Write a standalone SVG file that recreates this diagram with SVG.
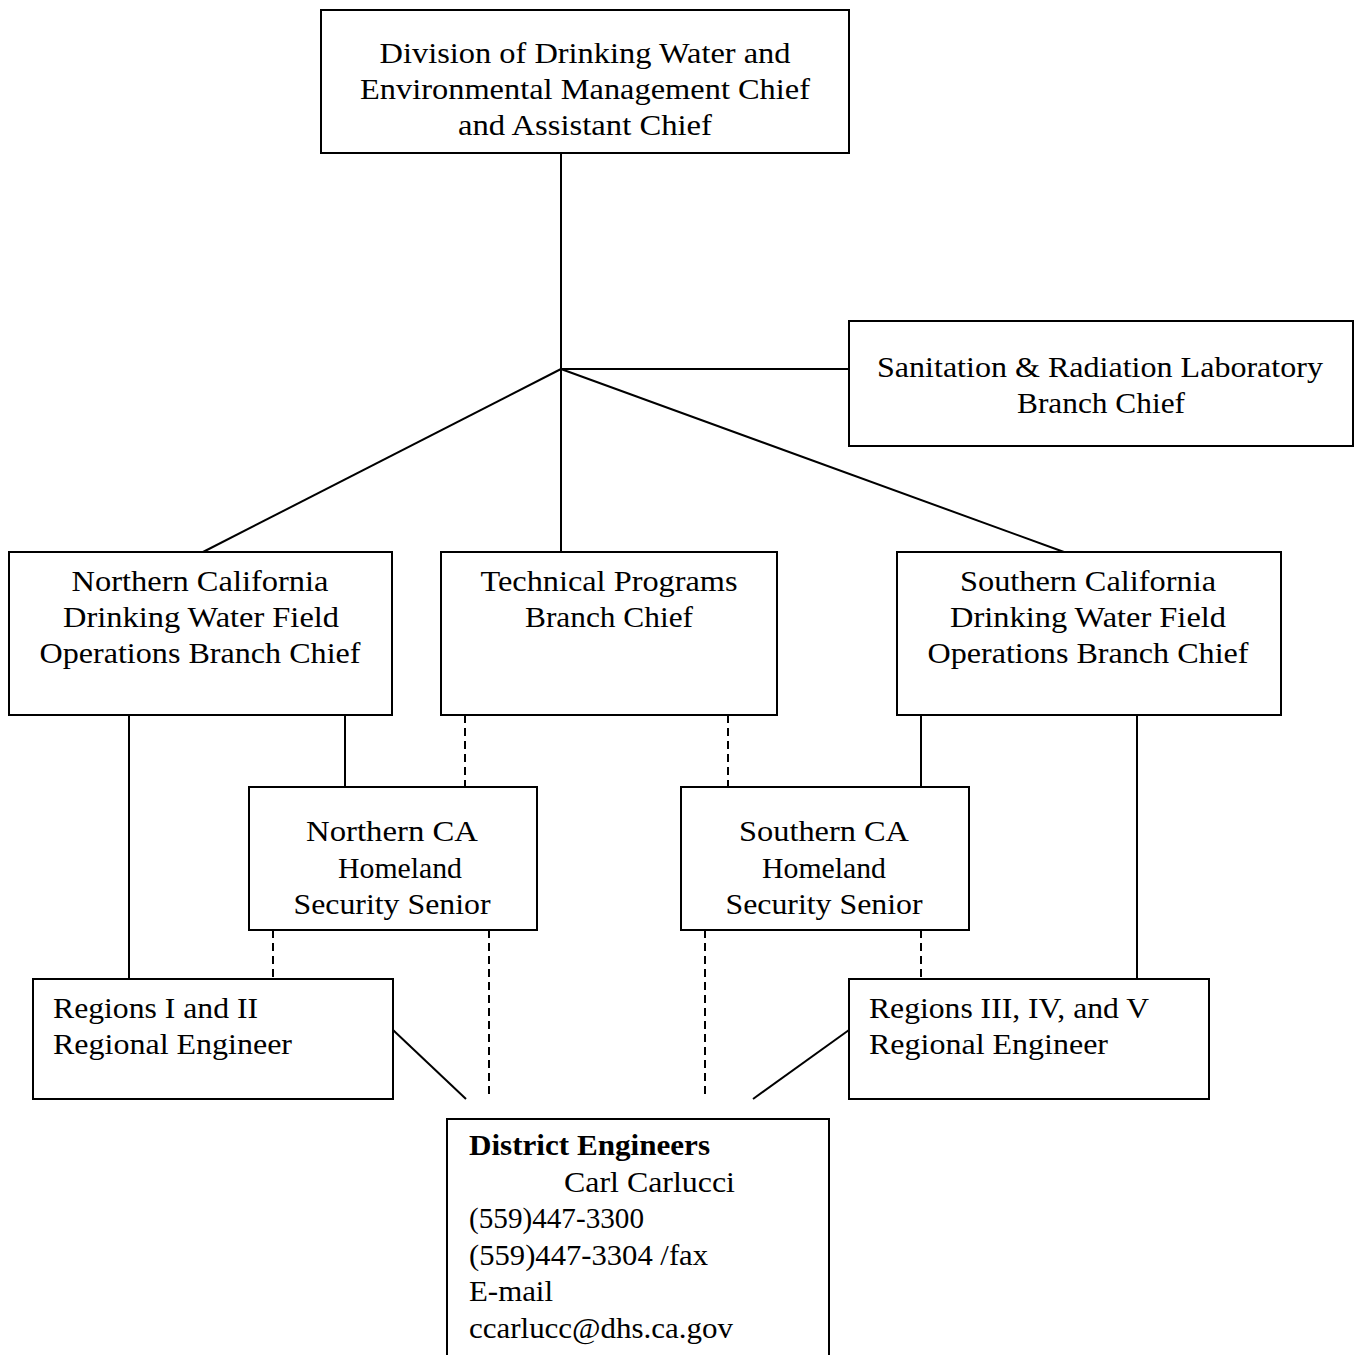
<svg xmlns="http://www.w3.org/2000/svg" width="1359" height="1355" viewBox="0 0 1359 1355">
<style>
.box{fill:#fff;stroke:#000;stroke-width:2}
.t{font-family:"Liberation Serif","Times New Roman",serif;font-size:30px;fill:#000}
.c{text-anchor:middle}
.b{font-weight:bold}
.ln{stroke:#000;stroke-width:2;fill:none}
.dash{stroke-dasharray:8 5}
</style>
<rect width="1359" height="1355" fill="#fff"/>
<g id="connectors">
<line class="ln" x1="561" y1="153" x2="561" y2="552"/>
<line class="ln" x1="561" y1="369" x2="849" y2="369"/>
<line class="ln" x1="561" y1="369" x2="203" y2="552"/>
<line class="ln" x1="561" y1="369" x2="1064" y2="552"/>
<line class="ln" x1="129" y1="715" x2="129" y2="979"/>
<line class="ln" x1="345" y1="715" x2="345" y2="787"/>
<line class="ln dash" x1="465" y1="715" x2="465" y2="787"/>
<line class="ln dash" x1="728" y1="715" x2="728" y2="787"/>
<line class="ln" x1="921" y1="715" x2="921" y2="787"/>
<line class="ln" x1="1137" y1="715" x2="1137" y2="979"/>
<line class="ln dash" x1="273" y1="930" x2="273" y2="979"/>
<line class="ln dash" x1="489" y1="930" x2="489" y2="1099"/>
<line class="ln dash" x1="705" y1="930" x2="705" y2="1099"/>
<line class="ln dash" x1="921" y1="930" x2="921" y2="979"/>
<line class="ln" x1="393" y1="1030" x2="466" y2="1099"/>
<line class="ln" x1="849" y1="1030" x2="753" y2="1099"/>
</g>
<g id="division">
<rect class="box" x="321" y="10" width="528" height="143"/>
<text class="t c" x="585" y="63" textLength="411" lengthAdjust="spacingAndGlyphs">Division of Drinking Water and</text>
<text class="t c" x="585" y="99" textLength="450" lengthAdjust="spacingAndGlyphs">Environmental Management Chief</text>
<text class="t c" x="585" y="135" textLength="254" lengthAdjust="spacingAndGlyphs">and Assistant Chief</text>
</g>
<g id="sanitation">
<rect class="box" x="849" y="321" width="504" height="125"/>
<text class="t c" x="1100" y="377" textLength="446" lengthAdjust="spacingAndGlyphs">Sanitation &amp; Radiation Laboratory</text>
<text class="t c" x="1101" y="413" textLength="168" lengthAdjust="spacingAndGlyphs">Branch Chief</text>
</g>
<g id="northern">
<rect class="box" x="9" y="552" width="383" height="163"/>
<text class="t c" x="200" y="591" textLength="257" lengthAdjust="spacingAndGlyphs">Northern California</text>
<text class="t c" x="201" y="627" textLength="276" lengthAdjust="spacingAndGlyphs">Drinking Water Field</text>
<text class="t c" x="200" y="663" textLength="321" lengthAdjust="spacingAndGlyphs">Operations Branch Chief</text>
</g>
<g id="technical">
<rect class="box" x="441" y="552" width="336" height="163"/>
<text class="t c" x="609" y="591" textLength="257" lengthAdjust="spacingAndGlyphs">Technical Programs</text>
<text class="t c" x="609" y="627" textLength="168" lengthAdjust="spacingAndGlyphs">Branch Chief</text>
</g>
<g id="southern">
<rect class="box" x="897" y="552" width="384" height="163"/>
<text class="t c" x="1088" y="591" textLength="256" lengthAdjust="spacingAndGlyphs">Southern California</text>
<text class="t c" x="1088" y="627" textLength="276" lengthAdjust="spacingAndGlyphs">Drinking Water Field</text>
<text class="t c" x="1088" y="663" textLength="321" lengthAdjust="spacingAndGlyphs">Operations Branch Chief</text>
</g>
<g id="northern-hs">
<rect class="box" x="249" y="787" width="288" height="143"/>
<text class="t c" x="392" y="841" textLength="172" lengthAdjust="spacingAndGlyphs">Northern CA</text>
<text class="t c" x="400" y="878" textLength="124" lengthAdjust="spacingAndGlyphs">Homeland</text>
<text class="t c" x="392" y="914" textLength="197" lengthAdjust="spacingAndGlyphs">Security Senior</text>
</g>
<g id="southern-hs">
<rect class="box" x="681" y="787" width="288" height="143"/>
<text class="t c" x="824" y="841" textLength="170" lengthAdjust="spacingAndGlyphs">Southern CA</text>
<text class="t c" x="824" y="878" textLength="124" lengthAdjust="spacingAndGlyphs">Homeland</text>
<text class="t c" x="824" y="914" textLength="197" lengthAdjust="spacingAndGlyphs">Security Senior</text>
</g>
<g id="regions-1-2">
<rect class="box" x="33" y="979" width="360" height="120"/>
<text class="t" x="53" y="1018" textLength="205" lengthAdjust="spacingAndGlyphs">Regions I and II</text>
<text class="t" x="53" y="1054" textLength="239" lengthAdjust="spacingAndGlyphs">Regional Engineer</text>
</g>
<g id="regions-3-5">
<rect class="box" x="849" y="979" width="360" height="120"/>
<text class="t" x="869" y="1018" textLength="280" lengthAdjust="spacingAndGlyphs">Regions III, IV, and V</text>
<text class="t" x="869" y="1054" textLength="239" lengthAdjust="spacingAndGlyphs">Regional Engineer</text>
</g>
<g id="district">
<path class="ln" d="M447,1360 V1119 H829 V1360" fill="#fff"/>
<text class="t b" x="469" y="1155" textLength="241" lengthAdjust="spacingAndGlyphs">District Engineers</text>
<text class="t" x="564" y="1192" textLength="171" lengthAdjust="spacingAndGlyphs">Carl Carlucci</text>
<text class="t" x="469" y="1228" textLength="175" lengthAdjust="spacingAndGlyphs">(559)447-3300</text>
<text class="t" x="469" y="1265" textLength="239" lengthAdjust="spacingAndGlyphs">(559)447-3304 /fax</text>
<text class="t" x="469" y="1301" textLength="84" lengthAdjust="spacingAndGlyphs">E-mail</text>
<text class="t" x="469" y="1338" textLength="264" lengthAdjust="spacingAndGlyphs">ccarlucc@dhs.ca.gov</text>
</g>
</svg>
